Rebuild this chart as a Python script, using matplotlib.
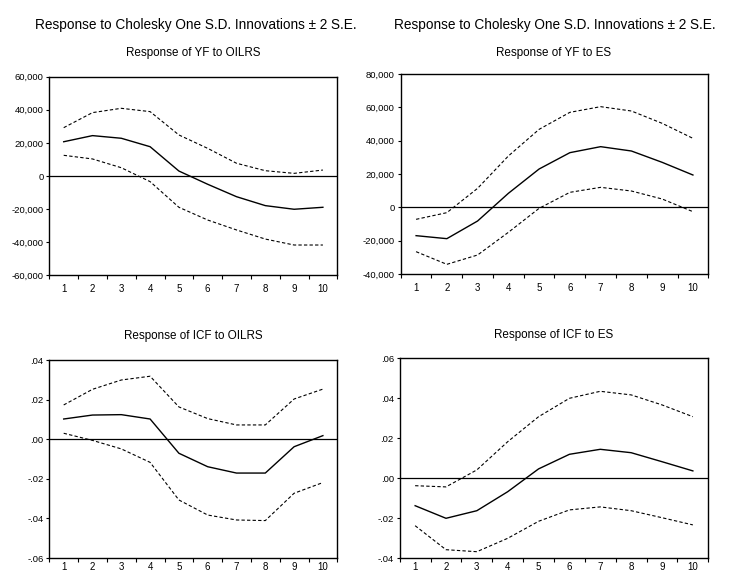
import matplotlib.pyplot as plt
import numpy as np

plt.rcParams['font.family'] = ['Liberation Sans', 'DejaVu Sans']

periods = np.arange(1, 11)

# Response of YF to OILRS
yf_oil = [20700, 24400, 22800, 17700, 3000, -5000, -12500, -17900, -20100, -18900]
yf_oil_up = [29200, 38300, 40900, 38900, 24800, 16700, 7700, 3200, 1600, 3600]
yf_oil_lo = [12500, 10300, 5000, -3400, -18900, -26600, -32600, -38100, -41700, -41700]

# Response of YF to ES
yf_es = [-17000, -18800, -8200, 8400, 23000, 32800, 36400, 33800, 27000, 19400]
yf_es_up = [-7200, -3200, 11400, 30800, 46800, 57000, 60400, 57800, 50400, 41400]
yf_es_lo = [-26600, -34200, -28600, -15000, -600, 9000, 12000, 9800, 5000, -2600]

# Response of ICF to OILRS
icf_oil = [0.0102, 0.0122, 0.0124, 0.0102, -0.0071, -0.0139, -0.0171, -0.0171, -0.0038, 0.0018]
icf_oil_up = [0.0173, 0.0252, 0.0299, 0.0318, 0.0163, 0.0104, 0.0072, 0.0072, 0.0203, 0.0253]
icf_oil_lo = [0.0030, -0.0006, -0.0049, -0.0117, -0.0307, -0.0383, -0.0408, -0.0411, -0.0273, -0.0219]

# Response of ICF to ES
icf_es = [-0.0137, -0.0200, -0.0162, -0.0067, 0.0047, 0.0120, 0.0145, 0.0128, 0.0083, 0.0037]
icf_es_up = [-0.0037, -0.0043, 0.0042, 0.0183, 0.0308, 0.0400, 0.0435, 0.0417, 0.0367, 0.0308]
icf_es_lo = [-0.0237, -0.0357, -0.0367, -0.0300, -0.0215, -0.0158, -0.0143, -0.0162, -0.0197, -0.0233]

yf_oil_ticks = [-60000, -40000, -20000, 0, 20000, 40000, 60000]
yf_oil_labels = ['-60,000', '-40,000', '-20,000', '0', '20,000', '40,000', '60,000']
yf_es_ticks = [-40000, -20000, 0, 20000, 40000, 60000, 80000]
yf_es_labels = ['-40,000', '-20,000', '0', '20,000', '40,000', '60,000', '80,000']
icf_oil_ticks = [-0.06, -0.04, -0.02, 0.0, 0.02, 0.04]
icf_oil_labels = ['-.06', '-.04', '-.02', '.00', '.02', '.04']
icf_es_ticks = [-0.04, -0.02, 0.0, 0.02, 0.04, 0.06]
icf_es_labels = ['-.04', '-.02', '.00', '.02', '.04', '.06']

suptitle = 'Response to Cholesky One S.D. Innovations \u00b1 2 S.E.'

fig = plt.figure(figsize=(7.29, 5.75), dpi=100)
W, H = 729.0, 575.0


def panel(rect_px, mid, up, lo, yticks, ylabels, xpad=6.5):
    x0, y0, x1, y1 = rect_px
    ax = fig.add_axes([x0 / W, 1 - y1 / H, (x1 - x0) / W, (y1 - y0) / H])
    ax.plot(periods, up, color='black', lw=0.8, ls=(0, (3, 2)))
    ax.plot(periods, lo, color='black', lw=0.8, ls=(0, (3, 2)))
    ax.plot(periods, mid, color='black', lw=1.0)
    ax.axhline(0, color='black', lw=0.9)
    ax.set_xlim(0.5, 10.5)
    ax.set_ylim(yticks[0], yticks[-1])
    ax.set_yticks(yticks)
    ax.set_yticklabels(ylabels)
    ax.set_xticks(periods)
    ax.set_xticklabels([str(p) for p in periods])
    ax.set_xticks(np.arange(0.5, 11, 1), minor=True)
    ax.tick_params(axis='x', which='major', length=0, labelsize=7, pad=xpad)
    ax.tick_params(axis='x', which='minor', length=3, width=0.8, direction='out')
    ax.tick_params(axis='y', length=2.2, width=0.8, direction='out', labelsize=6.8, pad=2)
    for s in ax.spines.values():
        s.set_linewidth(1.0)
    return ax


panel((49.3, 76.7, 337.3, 275.3), yf_oil, yf_oil_up, yf_oil_lo, yf_oil_ticks, yf_oil_labels)
panel((400.7, 74, 708.3, 274), yf_es, yf_es_up, yf_es_lo, yf_es_ticks, yf_es_labels)
panel((49.3, 360, 337.3, 558), icf_oil, icf_oil_up, icf_oil_lo, icf_oil_ticks, icf_oil_labels, xpad=3)
panel((399.7, 358.3, 708.3, 558.3), icf_es, icf_es_up, icf_es_lo, icf_es_ticks, icf_es_labels, xpad=3)

fig.text(196 / W, 1 - 25 / H, suptitle, ha='center', va='center', fontsize=9.8)
fig.text(555 / W, 1 - 25 / H, suptitle, ha='center', va='center', fontsize=9.8)
fig.text(193 / W, 1 - 53 / H, 'Response of YF to OILRS', ha='center', va='center', fontsize=8.4)
fig.text(554 / W, 1 - 53 / H, 'Response of YF to ES', ha='center', va='center', fontsize=8.4)
fig.text(193 / W, 1 - 336 / H, 'Response of ICF to OILRS', ha='center', va='center', fontsize=8.4)
fig.text(554 / W, 1 - 335 / H, 'Response of ICF to ES', ha='center', va='center', fontsize=8.4)

fig.savefig('out.png', dpi=100)
